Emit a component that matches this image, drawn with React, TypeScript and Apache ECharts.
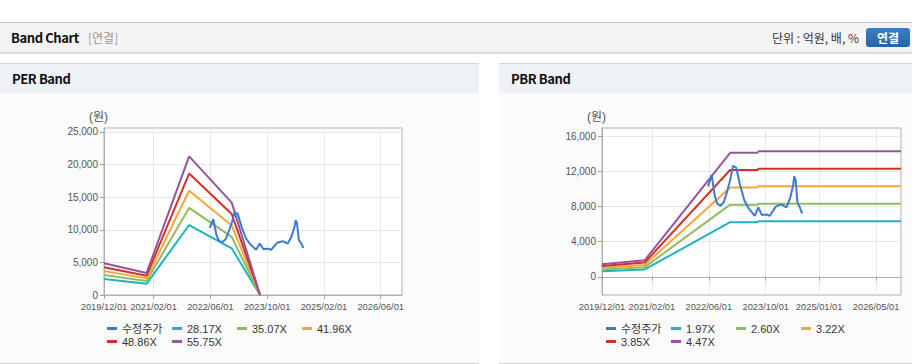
import React, { useEffect, useRef } from 'react';
import * as echarts from 'echarts';

// ---- axis ticks ----
const xStart = '2019/12/01';
const xEnd = '2026/12/01';
const perXTicks = ['2019/12/01', '2021/02/01', '2022/06/01', '2023/10/01', '2025/02/01', '2026/06/01'];
const pbrXTicks = ['2019/12/01', '2021/02/01', '2022/06/01', '2023/10/01', '2025/01/01', '2026/05/01'];
const perYTicks = [0, 5000, 10000, 15000, 20000, 25000];
const perYMin = 0;
const perYMax = 25600;
const pbrYTicks = [0, 4000, 8000, 12000, 16000];
const pbrYMin = -2080;
const pbrYMax = 16960;

// ---- price (수정주가) ----
const priceName = '수정주가';
const priceDates = [
  '2022/05/25', '2022/06/25', '2022/07/22', '2022/08/13', '2022/09/10', '2022/10/07', '2022/11/01',
  '2022/12/01', '2022/12/25', '2023/01/22', '2023/02/22', '2023/04/01', '2023/05/07', '2023/06/28',
  '2023/07/28', '2023/08/28', '2023/10/10', '2023/11/04', '2023/12/25', '2024/02/10', '2024/03/25',
  '2024/04/25', '2024/05/22', '2024/06/01', '2024/06/13', '2024/06/28', '2024/07/19', '2024/08/07',
];
const priceValues = [
  10300, 11620, 9200, 8300, 8100, 8500, 9500,
  11000, 12650, 12450, 10600, 8700, 7800, 6950,
  7900, 7050, 7100, 6930, 8000, 8250, 7900,
  8900, 10400, 11450, 11000, 8450, 7900, 7200,
];

// ---- PER bands ----
const perBandDates = ['2019/12/01', '2020/12/01', '2021/12/01', '2022/12/01', '2023/08/01'];
const perBandNames = ['28.17X', '35.07X', '41.96X', '48.86X', '55.75X'];
const per2817 = [2460, 1710, 10730, 7160, 0];
const per3507 = [3060, 2130, 13360, 8910, 0];
const per4196 = [3660, 2550, 15990, 10660, 0];
const per4886 = [4260, 2960, 18620, 12410, 0];
const per5575 = [4860, 3380, 21240, 14160, 0];

// ---- PBR bands ----
const pbrBandDates = ['2019/12/01', '2020/12/01', '2022/12/01', '2023/07/20', '2023/08/01', '2026/12/01'];
const pbrBandNames = ['1.97X', '2.60X', '3.22X', '3.85X', '4.47X'];
const pbr197 = [630, 830, 6220, 6220, 6320, 6320];
const pbr260 = [830, 1090, 8220, 8220, 8330, 8330];
const pbr322 = [1030, 1350, 10180, 10180, 10310, 10310];
const pbr385 = [1230, 1620, 12170, 12170, 12320, 12320];
const pbr447 = [1430, 1880, 14130, 14130, 14300, 14300];

const bandColors = ['#1db3c6', '#92bb5c', '#f4a637', '#d3302a', '#94549e'];
const priceColor = '#3b7bd0';

const FONT = "'Liberation Sans', 'Noto Sans CJK KR', sans-serif";
const UI_FONT = "'Noto Sans CJK KR', 'Noto Sans', sans-serif";

function toMonth(s: string): number {
  const [y, m, d] = s.split('/').map(Number);
  return (y - 2019) * 12 + (m - 12) + (d - 1) / 30;
}

function pairs(dates: string[], vals: number[]) {
  return dates.map((d, i) => [toMonth(d), vals[i]]);
}

function fmtNum(v: number) {
  return Math.round(v).toLocaleString('en-US');
}

export default function App() {
  const ref = useRef<HTMLDivElement>(null);

  useEffect(() => {
    if (!ref.current) return;
    const chart = echarts.init(ref.current, null, { renderer: 'svg' });

    const perBands = [per2817, per3507, per4196, per4886, per5575];
    const pbrBands = [pbr197, pbr260, pbr322, pbr385, pbr447];

    const makeX = (ticks: string[], gridIndex: number) => {
      const vals = ticks.map(toMonth);
      return {
        type: 'value',
        gridIndex,
        min: toMonth(xStart),
        max: toMonth(xEnd),
        axisLine: { show: true, lineStyle: { color: '#b0b0b0' } },
        axisTick: { show: true, customValues: vals, length: 4, lineStyle: { color: '#a0a0a0' } },
        axisLabel: {
          customValues: vals,
          formatter: (v: number) => {
            const idx = vals.findIndex((t) => Math.abs(t - v) < 1e-6);
            return idx >= 0 ? ticks[idx] : '';
          },
          color: '#555',
          fontSize: 9.3,
          fontFamily: FONT,
          margin: 7,
        },
        splitLine: { show: true, lineStyle: { color: '#e8e8e8' } },
      };
    };

    const makeY = (ticks: number[], min: number, max: number, gridIndex: number) => ({
      type: 'value',
      gridIndex,
      min,
      max,
      axisLine: { show: true, lineStyle: { color: '#b0b0b0' } },
      axisTick: { show: true, customValues: ticks, length: 4, lineStyle: { color: '#a0a0a0' } },
      axisLabel: {
        customValues: ticks,
        formatter: (v: number) => fmtNum(v),
        color: '#555',
        fontSize: 10,
        fontFamily: FONT,
        margin: 6,
      },
      splitLine: { show: true, lineStyle: { color: '#e8e8e8' } },
    });

    const series: any[] = [];
    perBands.forEach((vals, i) => {
      series.push({
        name: perBandNames[i],
        type: 'line',
        xAxisIndex: 0,
        yAxisIndex: 0,
        data: pairs(perBandDates, vals),
        showSymbol: false,
        lineStyle: { width: 2, color: bandColors[i] },
        itemStyle: { color: bandColors[i] },
        z: 2,
      });
    });
    series.push({
      name: priceName,
      type: 'line',
      xAxisIndex: 0,
      yAxisIndex: 0,
      data: pairs(priceDates, priceValues),
      showSymbol: false,
      lineStyle: { width: 2, color: priceColor },
      itemStyle: { color: priceColor },
      z: 3,
    });
    pbrBands.forEach((vals, i) => {
      series.push({
        name: pbrBandNames[i],
        type: 'line',
        xAxisIndex: 1,
        yAxisIndex: 1,
        data: pairs(pbrBandDates, vals),
        showSymbol: false,
        lineStyle: { width: 2, color: bandColors[i] },
        itemStyle: { color: bandColors[i] },
        z: 2,
      });
    });
    series.push({
      name: priceName,
      type: 'line',
      xAxisIndex: 1,
      yAxisIndex: 1,
      data: pairs(priceDates, priceValues),
      showSymbol: false,
      lineStyle: { width: 2, color: priceColor },
      itemStyle: { color: priceColor },
      z: 3,
    });

    const legendItem = (name: string, left: number, top: number) => ({
      show: true,
      data: [name],
      left,
      top,
      padding: 0,
      icon: 'rect',
      itemWidth: 10,
      itemHeight: 3,
      selectedMode: false,
      textStyle: { fontSize: 11, color: '#333', fontFamily: FONT },
    });

    const perLegendNames = [priceName, ...perBandNames];
    const pbrLegendNames = [priceName, ...pbrBandNames];
    const colLefts = [107, 172, 237, 302];
    const pbrColLefts = [606, 671, 736, 801];
    const legends: any[] = [];
    perLegendNames.forEach((n, i) => {
      legends.push(legendItem(n, colLefts[i % 4], i < 4 ? 323 : 336));
    });
    pbrLegendNames.forEach((n, i) => {
      legends.push(legendItem(n, pbrColLefts[i % 4], i < 4 ? 323 : 336));
    });

    chart.setOption({
      animation: false,
      backgroundColor: 'transparent',
      textStyle: { fontFamily: FONT },
      grid: [
        { left: 104, top: 128, width: 298, height: 167, show: true, borderColor: '#b0b0b0', borderWidth: 1, backgroundColor: '#ffffff' },
        { left: 602, top: 128, width: 299, height: 167, show: true, borderColor: '#b0b0b0', borderWidth: 1, backgroundColor: '#ffffff' },
      ],
      xAxis: [makeX(perXTicks, 0), makeX(pbrXTicks, 1)],
      yAxis: [makeY(perYTicks, perYMin, perYMax, 0), makeY(pbrYTicks, pbrYMin, pbrYMax, 1)],
      legend: legends,
      graphic: [
        { type: 'text', left: 89, top: 111, style: { text: '(원)', fontSize: 12, fill: '#555', fontFamily: FONT } },
        { type: 'text', left: 587, top: 111, style: { text: '(원)', fontSize: 12, fill: '#555', fontFamily: FONT } },
      ],
      series,
    });

    return () => chart.dispose();
  }, []);

  const panelHeader: React.CSSProperties = {
    position: 'absolute', left: 0, right: 0, top: 0, height: 29, background: '#eef1f5',
  };
  const panelTitle: React.CSSProperties = {
    position: 'absolute', left: 12, top: 0, height: 29, lineHeight: '29px',
    fontFamily: UI_FONT, fontWeight: 700, fontSize: 13, color: '#111', letterSpacing: -0.4,
  };

  return (
    <div style={{ position: 'fixed', left: 0, top: 0, width: 912, height: 364, overflow: 'hidden', background: '#fff' }}>
      {/* top header bar */}
      <div style={{ position: 'absolute', left: 0, top: 22, width: 912, height: 1, background: '#c2c2c2' }} />
      <div style={{
        position: 'absolute', left: 0, top: 23, width: 912, height: 29, background: '#f4f4f4',
        borderBottom: '1px solid #d4d4d4', boxShadow: '0 1px 2px rgba(0,0,0,0.15)',
      }}>
        <span style={{
          position: 'absolute', left: 11, top: 0, lineHeight: '29px', fontFamily: UI_FONT,
          fontWeight: 700, fontSize: 13, color: '#111', letterSpacing: -0.4,
        }}>Band Chart</span>
        <span style={{
          position: 'absolute', left: 88, top: 0, lineHeight: '29px', fontFamily: UI_FONT,
          fontSize: 12, color: '#999',
        }}>[연결]</span>
        <span style={{
          position: 'absolute', right: 53, top: 0, lineHeight: '29px', fontFamily: UI_FONT,
          fontSize: 12, color: '#333', whiteSpace: 'nowrap',
        }}>단위 : 억원, 배, <span style={{ color: '#7a2a3a' }}>%</span></span>
        <div style={{
          position: 'absolute', left: 866, top: 5, width: 44, height: 19, borderRadius: 3,
          background: 'linear-gradient(#3d80c6, #2563a8)', color: '#fff', fontFamily: UI_FONT,
          fontWeight: 700, fontSize: 12, lineHeight: '19px', textAlign: 'center',
        }}>연결</div>
      </div>

      {/* left panel */}
      <div style={{
        position: 'absolute', left: 0, top: 63, width: 479, height: 299, background: '#fbfbfb',
        borderTop: '1px solid #d6d6d6', borderBottom: '1px solid #d0d0d0',
      }}>
        <div style={panelHeader}><span style={panelTitle}>PER Band</span></div>
      </div>

      {/* right panel */}
      <div style={{
        position: 'absolute', left: 499, top: 63, width: 413, height: 299, background: '#fbfbfb',
        borderTop: '1px solid #d6d6d6', borderBottom: '1px solid #d0d0d0',
      }}>
        <div style={panelHeader}><span style={panelTitle}>PBR Band</span></div>
      </div>

      <div ref={ref} style={{ position: 'absolute', left: 0, top: 0, width: 912, height: 364 }} />
    </div>
  );
}
